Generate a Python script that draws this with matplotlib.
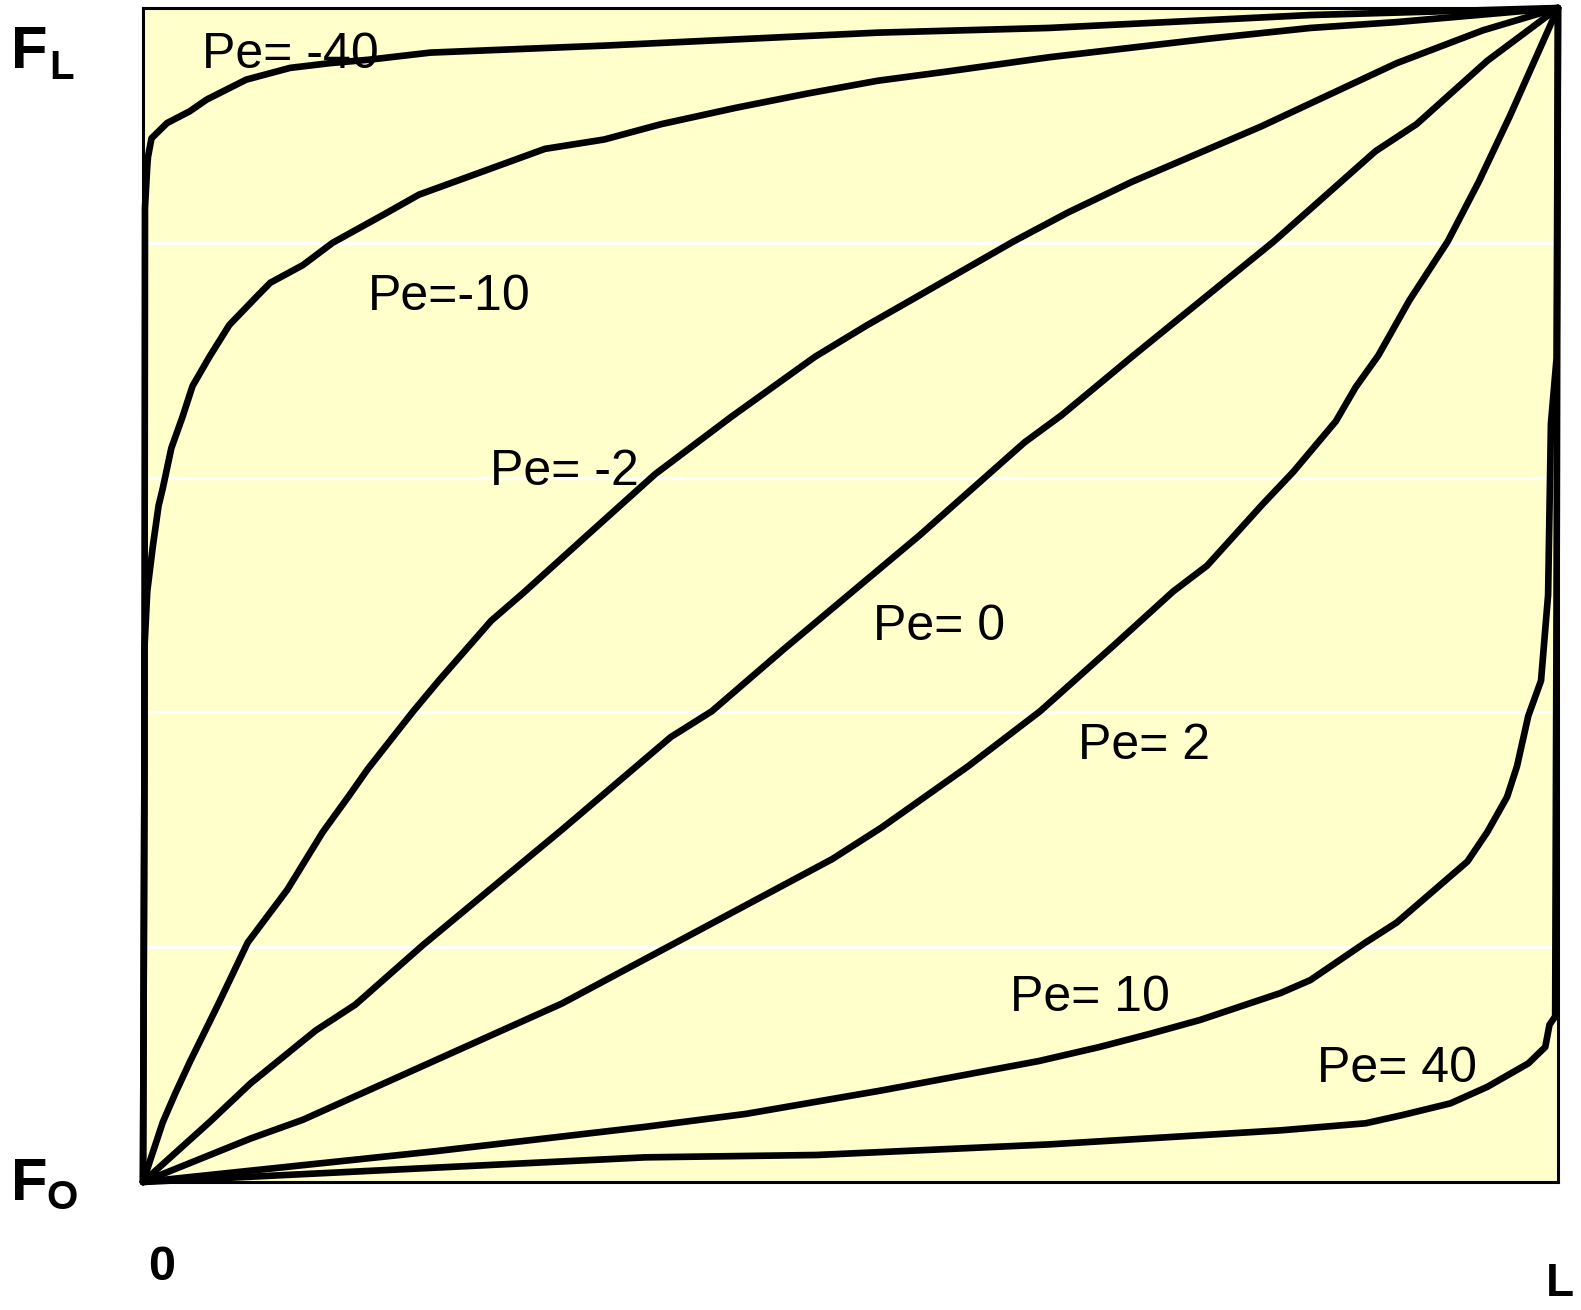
import matplotlib
matplotlib.use('Agg')
import matplotlib.pyplot as plt

# curve data (x along 0..L, F between F0 and FL)
pe_m40_x = [0.0, 0.001, 0.0014, 0.003, 0.0035, 0.006, 0.017, 0.033, 0.045, 0.073, 0.104, 0.132, 0.160, 0.203, 0.327, 0.519, 0.640, 0.825, 1.0]
pe_m40_y = [0.0, 0.35, 0.830, 0.865, 0.873, 0.889, 0.902, 0.912, 0.922, 0.939, 0.949, 0.953, 0.956, 0.962, 0.968, 0.979, 0.983, 0.994, 1.0]

pe_m10_x = [0.0, 0.001, 0.001, 0.003, 0.007, 0.011, 0.014, 0.020, 0.028, 0.035, 0.047, 0.061, 0.081, 0.090, 0.113, 0.134, 0.170, 0.195, 0.227, 0.284, 0.326, 0.366, 0.419, 0.469, 0.519, 0.569, 0.640, 0.697, 0.754, 0.825, 0.886, 1.0]
pe_m10_y = [0.0, 0.351, 0.454, 0.503, 0.542, 0.576, 0.591, 0.625, 0.652, 0.678, 0.703, 0.730, 0.755, 0.766, 0.781, 0.800, 0.824, 0.841, 0.855, 0.880, 0.888, 0.901, 0.915, 0.927, 0.938, 0.946, 0.958, 0.966, 0.974, 0.983, 0.988, 1.0]

pe_m2_x = [0.0, 0.014, 0.023, 0.033, 0.053, 0.074, 0.102, 0.127, 0.145, 0.159, 0.191, 0.209, 0.246, 0.269, 0.314, 0.362, 0.416, 0.475, 0.512, 0.544, 0.615, 0.654, 0.699, 0.790, 0.886, 0.947, 1.0]
pe_m2_y = [0.0, 0.051, 0.076, 0.102, 0.151, 0.204, 0.249, 0.298, 0.328, 0.352, 0.401, 0.427, 0.478, 0.502, 0.551, 0.603, 0.652, 0.703, 0.730, 0.752, 0.801, 0.826, 0.852, 0.899, 0.953, 0.981, 1.0]

pe_0_x = [0.0, 0.047, 0.076, 0.122, 0.150, 0.198, 0.296, 0.373, 0.402, 0.453, 0.549, 0.623, 0.649, 0.700, 0.799, 0.871, 0.900, 0.950, 1.0]
pe_0_y = [0.0, 0.051, 0.084, 0.129, 0.151, 0.202, 0.300, 0.379, 0.401, 0.454, 0.551, 0.630, 0.653, 0.704, 0.801, 0.878, 0.901, 0.955, 1.0]

pe_2_x = [0.0, 0.076, 0.113, 0.296, 0.487, 0.522, 0.583, 0.634, 0.686, 0.728, 0.752, 0.791, 0.813, 0.843, 0.857, 0.873, 0.895, 0.922, 0.944, 0.966, 1.0]
pe_2_y = [0.0, 0.037, 0.053, 0.152, 0.275, 0.302, 0.354, 0.401, 0.457, 0.503, 0.525, 0.577, 0.605, 0.648, 0.677, 0.704, 0.751, 0.801, 0.852, 0.908, 1.0]

pe_10_x = [0.0, 0.205, 0.355, 0.426, 0.522, 0.633, 0.676, 0.711, 0.747, 0.804, 0.825, 0.864, 0.886, 0.911, 0.936, 0.950, 0.964, 0.971, 0.979, 0.988, 0.993, 0.995, 0.999, 1.0]
pe_10_y = [0.0, 0.026, 0.047, 0.058, 0.078, 0.103, 0.115, 0.126, 0.138, 0.161, 0.172, 0.204, 0.221, 0.247, 0.273, 0.298, 0.328, 0.354, 0.397, 0.427, 0.500, 0.646, 0.702, 1.0]

pe_40_x = [0.0, 0.355, 0.476, 0.640, 0.804, 0.864, 0.890, 0.924, 0.950, 0.979, 0.991, 0.994, 0.998, 0.999, 1.0]
pe_40_y = [0.0, 0.021, 0.023, 0.032, 0.044, 0.050, 0.057, 0.067, 0.081, 0.101, 0.115, 0.134, 0.141, 0.5, 1.0]

label_text = ['Pe= -40', 'Pe=-10', 'Pe= -2', 'Pe= 0', 'Pe= 2', 'Pe= 10', 'Pe= 40']
label_x = [0.042, 0.159, 0.245, 0.516, 0.661, 0.613, 0.830]
label_y = [0.949, 0.743, 0.594, 0.462, 0.360, 0.146, 0.085]

grid_levels = [0.2, 0.4, 0.6, 0.8]

W, H = 1581, 1310


def figText(fig, px, py, s, size):
    # place text by pixel position of its left edge / baseline
    fig.text(px / W, 1 - py / H, s, fontsize=size, fontweight='bold',
             family='Liberation Sans', ha='left', va='baseline')


fig = plt.figure(figsize=(W / 100, H / 100), dpi=100)
ax = fig.add_axes([143 / W, 1 - 1182 / H, 1415 / W, 1174 / H])
ax.set_facecolor('#FFFFCC')
ax.set_xlim(0, 1)
ax.set_ylim(0, 1)
ax.set_xticks([])
ax.set_yticks(grid_levels)
ax.set_yticklabels([])
ax.tick_params(length=0)
ax.grid(axis='y', color='white', linewidth=2.4)
ax.set_axisbelow(True)
for sp in ax.spines.values():
    sp.set_linewidth(2.2)
    sp.set_color('black')

curves = [(pe_m40_x, pe_m40_y), (pe_m10_x, pe_m10_y), (pe_m2_x, pe_m2_y),
          (pe_0_x, pe_0_y), (pe_2_x, pe_2_y), (pe_10_x, pe_10_y), (pe_40_x, pe_40_y)]
for cx, cy in curves:
    ax.plot(cx, cy, color='black', linewidth=4.8, solid_joinstyle='round',
            solid_capstyle='round', clip_on=False, zorder=3)

for t, lx, ly in zip(label_text, label_x, label_y):
    ax.text(lx, ly, t, fontsize=36, family='Liberation Sans', ha='left',
            va='baseline', zorder=4)

figText(fig, 11, 68, 'F', 43)
figText(fig, 49, 79, 'L', 29)
figText(fig, 11, 1200, 'F', 43)
figText(fig, 46, 1209, 'O', 29)
figText(fig, 148, 1280, '0', 35)
figText(fig, 1546, 1296, 'L', 33)

fig.savefig('out.png', dpi=100, facecolor='white')
